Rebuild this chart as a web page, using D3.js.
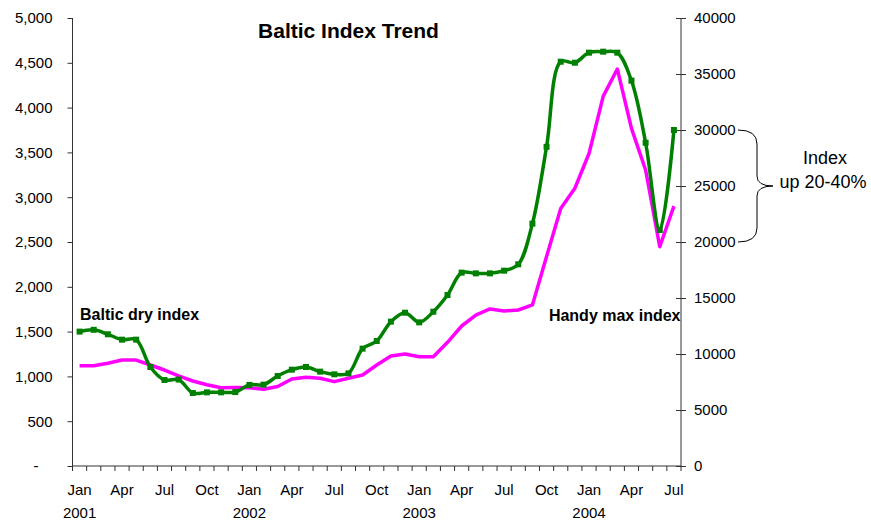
<!DOCTYPE html>
<html>
<head>
<meta charset="utf-8">
<script src="https://cdn.jsdelivr.net/npm/d3@7"></script>
<style>
  body { margin: 0; background: #fff; }
  svg text { font-family: "Liberation Sans", Arial, sans-serif; fill: #000; }
</style>
</head>
<body>
<div id="chart"></div>
<script>
const margin = { top: 18, right: 190, bottom: 54, left: 72.5 },
      width = 871 - margin.left - margin.right,
      height = 520 - margin.top - margin.bottom;

const monthNames = ["Jan","Feb","Mar","Apr","May","Jun","Jul","Aug","Sep","Oct","Nov","Dec"];
const years = [2001, 2002, 2003, 2004];

// monthly categories Jan 2001 .. Jul 2004
const months = [];
years.forEach(yr => monthNames.forEach((m, i) => {
  if (yr < 2004 || i <= 6) months.push(`${m} ${yr}`);
}));

// Baltic dry index (left axis)
const balticDry = [
  1500, 1520, 1470, 1410, 1410, 1105, 960, 965, 815, 822, 822, 825,
  905, 908, 1004, 1075, 1105, 1053, 1023, 1034, 1310, 1395, 1611, 1711,
  1603, 1722, 1908, 2158, 2150, 2150, 2180, 2251, 2705, 3562, 4512, 4501,
  4613, 4624, 4613, 4301, 3608, 2634, 3750
];

// Handy max index (right axis)
const handyMax = [
  8950, 8950, 9170, 9460, 9460, 9020, 8570, 8040, 7590, 7250, 6990, 7000,
  6990, 6850, 7100, 7770, 7920, 7830, 7530, 7830, 8125, 9020, 9820, 10000,
  9760, 9760, 11040, 12500, 13480, 14020, 13840, 13930, 14380, 18700, 23000, 24800,
  27900, 33000, 35450, 30150, 26430, 19580, 23200
];

const leftTicks = [0, 500, 1000, 1500, 2000, 2500, 3000, 3500, 4000, 4500, 5000];
const rightTicks = [0, 5000, 10000, 15000, 20000, 25000, 30000, 35000, 40000];

const svg = d3.select("#chart")
  .append("svg")
  .attr("width", 871)
  .attr("height", 520)
  .append("g")
  .attr("transform", `translate(${margin.left},${margin.top})`);

const x = d3.scaleBand()
  .domain(months)
  .range([0, width]);

const yLeft = d3.scaleLinear().domain([0, 5000]).range([height, 0]);
const yRight = d3.scaleLinear().domain([0, 40000]).range([height, 0]);

const cx = d => x(d) + x.bandwidth() / 2;

// Axes
const axisColor = "#333";

// x axis: ticks on every band boundary
const xAxis = svg.append("g").attr("transform", `translate(0,${height})`);
xAxis.append("line")
  .attr("x1", 0).attr("x2", width)
  .attr("stroke", axisColor);
xAxis.selectAll(".tk")
  .data(months.concat(["end"]))
  .join("line")
  .attr("x1", (d, i) => i * x.step())
  .attr("x2", (d, i) => i * x.step())
  .attr("y1", 0).attr("y2", 5)
  .attr("stroke", axisColor);
xAxis.selectAll(".mlab")
  .data(months.filter((d, i) => i % 3 === 0))
  .join("text")
  .attr("x", d => cx(d))
  .attr("y", 29)
  .attr("text-anchor", "middle")
  .style("font-size", "15px")
  .text(d => d.split(" ")[0]);
xAxis.selectAll(".ylab")
  .data(months.filter(d => d.startsWith("Jan")))
  .join("text")
  .attr("x", d => cx(d))
  .attr("y", 52)
  .attr("text-anchor", "middle")
  .style("font-size", "15px")
  .text(d => d.split(" ")[1]);

// left axis
const leftAxis = svg.append("g")
  .call(d3.axisLeft(yLeft)
    .tickValues(leftTicks)
    .tickSize(5)
    .tickPadding(15)
    .tickFormat(d => d === 0 ? "-" : d3.format(",")(d)));
leftAxis.select(".domain").attr("stroke", axisColor).attr("d", `M0,0V${height}`);
leftAxis.selectAll(".tick line").attr("stroke", axisColor);
leftAxis.selectAll("text").style("font-size", "15px").attr("fill", "#000");
leftAxis.selectAll(".tick").filter(d => d === 0).select("text").attr("x", -34);

// right axis
const rightAxis = svg.append("g")
  .attr("transform", `translate(${width},0)`)
  .call(d3.axisRight(yRight)
    .tickValues(rightTicks)
    .tickSize(5)
    .tickPadding(8)
    .tickFormat(d3.format("d")));
rightAxis.select(".domain").attr("stroke", axisColor).attr("d", `M0,0V${height}`);
rightAxis.selectAll(".tick line").attr("stroke", axisColor).attr("x1", -5);
rightAxis.selectAll("text").style("font-size", "15px").attr("fill", "#000");

// Lines
const handyLine = d3.line()
  .x((d, i) => cx(months[i]))
  .y(d => yRight(d));

svg.append("path")
  .datum(handyMax)
  .attr("fill", "none")
  .attr("stroke", "#ff00ff")
  .attr("stroke-width", 3.5)
  .attr("stroke-linejoin", "round")
  .attr("d", handyLine);

const dryLine = d3.line()
  .x((d, i) => cx(months[i]))
  .y(d => yLeft(d))
  .curve(d3.curveCatmullRom.alpha(0.5));

svg.append("path")
  .datum(balticDry)
  .attr("fill", "none")
  .attr("stroke", "#008000")
  .attr("stroke-width", 3.5)
  .attr("stroke-linejoin", "round")
  .attr("d", dryLine);

svg.selectAll(".mk")
  .data(balticDry)
  .join("rect")
  .attr("x", (d, i) => cx(months[i]) - 3)
  .attr("y", d => yLeft(d) - 3)
  .attr("width", 6)
  .attr("height", 6)
  .attr("fill", "#008000");

// Title and labels
svg.append("text")
  .attr("x", 276)
  .attr("y", 20)
  .attr("text-anchor", "middle")
  .style("font-size", "21px")
  .style("font-weight", "bold")
  .text("Baltic Index Trend");

svg.append("text")
  .attr("x", 7.5)
  .attr("y", 302)
  .style("font-size", "16px")
  .style("font-weight", "bold")
  .text("Baltic dry index");

svg.append("text")
  .attr("x", width - 0.5)
  .attr("y", 303)
  .attr("text-anchor", "end")
  .style("font-size", "16px")
  .style("font-weight", "bold")
  .text("Handy max index");

// Brace annotation on right
const bTop = yRight(30000), bBot = yRight(20000), bMid = (bTop + bBot) / 2;
const x0 = width + 57, xv = width + 76, xt = width + 92;
svg.append("path")
  .attr("fill", "none")
  .attr("stroke", "#000")
  .attr("stroke-width", 1)
  .attr("d", `M${x0},${bTop} Q${xv},${bTop} ${xv},${bTop + 14} L${xv},${bMid - 10}
    Q${xv},${bMid} ${xt},${bMid} Q${xv},${bMid} ${xv},${bMid + 10}
    L${xv},${bBot - 14} Q${xv},${bBot} ${x0},${bBot}`);

svg.append("text")
  .attr("x", width + 144)
  .attr("y", 146)
  .attr("text-anchor", "middle")
  .style("font-size", "18px")
  .text("Index");
svg.append("text")
  .attr("x", width + 142)
  .attr("y", 170)
  .attr("text-anchor", "middle")
  .style("font-size", "18px")
  .text("up 20-40%");
</script>
</body>
</html>
